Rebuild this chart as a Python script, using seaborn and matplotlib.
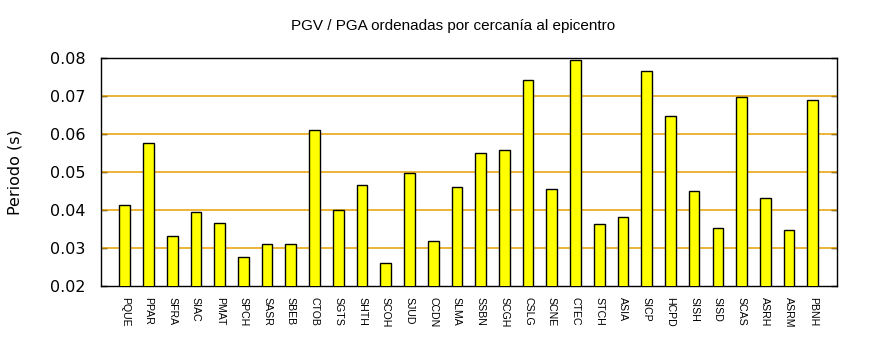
import matplotlib
matplotlib.use("Agg")
import matplotlib.pyplot as plt
import seaborn as sns
import pandas as pd

stations = ["PQUE", "PPAR", "SFRA", "SIAC", "PMAT", "SPCH", "SASR", "SBEB", "CTOB", "SGTS",
            "SHTH", "SCOH", "SJUD", "CCDN", "SLMA", "SSBN", "SCGH", "CSLG", "SCNE", "CTEC",
            "STCH", "ASIA", "SICP", "HCPD", "SISH", "SISD", "SCAS", "ASRH", "ASRM", "PBNH"]
values = [0.0413, 0.0576, 0.0332, 0.0395, 0.0366, 0.0276, 0.0311, 0.0311, 0.0611, 0.0400,
          0.0466, 0.0261, 0.0497, 0.0318, 0.0461, 0.0550, 0.0558, 0.0742, 0.0455, 0.0795,
          0.0363, 0.0382, 0.0766, 0.0647, 0.0450, 0.0353, 0.0697, 0.0432, 0.0347, 0.0689]
yticks = [0.02, 0.03, 0.04, 0.05, 0.06, 0.07, 0.08]

df = pd.DataFrame({"station": stations, "value": values})

sns.set_style("white")
plt.rcParams["font.family"] = ["Liberation Sans", "DejaVu Sans"]
plt.rcParams["text.color"] = "black"
plt.rcParams["axes.labelcolor"] = "black"

fig = plt.figure(figsize=(8.7, 3.5), dpi=100)
ax = fig.add_axes([0.1161, 0.1829, 0.8454, 0.6511])

sns.barplot(data=df, x="station", y="value", color="#ffff00", saturation=1,
            edgecolor="black", linewidth=1.0, width=0.45, ax=ax, zorder=3)

ax.set_ylim(0.02, 0.08)
ax.set_xlim(-1, len(stations))
ax.set_yticks(yticks)
ax.set_yticklabels([f"{t:.2f}" for t in yticks], fontfamily="DejaVu Sans", fontsize=11.5)
for t in yticks[1:-1]:
    ax.axhline(t, color="#e6a000", linewidth=1.1, zorder=1)

ax.tick_params(axis="y", which="both", direction="in", length=4, width=1,
               left=True, right=True, pad=11, colors="black")
ax.tick_params(axis="x", length=0, pad=8, colors="black")
plt.setp(ax.get_xticklabels(), rotation=-90, fontsize=7.6, ha="center", va="top")

for s in ax.spines.values():
    s.set_color("black")
    s.set_linewidth(1.0)

ax.set_xlabel("")
ax.set_ylabel("Periodo (s)", fontfamily="DejaVu Sans", fontsize=11.5, labelpad=20)
fig.text(0.5207, 0.925, "PGV / PGA ordenadas por cercanía al epicentro",
         fontsize=11, ha="center", va="center", color="black")

fig.savefig("out.png", dpi=100)
